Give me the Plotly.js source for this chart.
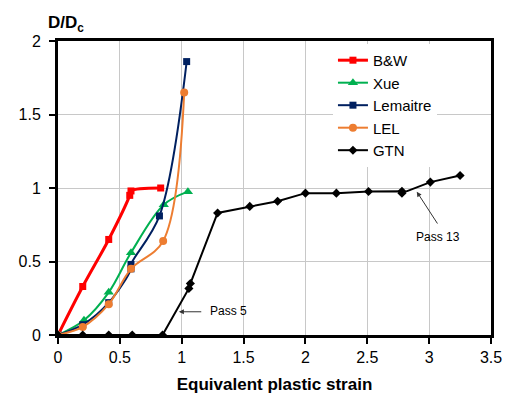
<!DOCTYPE html>
<html><head><meta charset="utf-8">
<script src="https://cdn.plot.ly/plotly-3.0.1.min.js"></script>
<style>html,body{margin:0;padding:0;background:#fff}#c{width:513px;height:399px}</style>
</head><body><div id="c"></div>
<script>
// Data
const bwX = [0, 0.2, 0.41, 0.58, 0.59, 0.83];
const bwY = [0, 0.33, 0.65, 0.95, 0.98, 1.0];
const xueX = [0, 0.21, 0.41, 0.59, 0.855, 1.05];
const xueY = [0, 0.10, 0.29, 0.56, 0.886, 0.975];
const lemX = [0, 0.2, 0.41, 0.59, 0.59, 0.82, 1.04];
const lemY = [0, 0.07, 0.22, 0.45, 0.48, 0.81, 1.86];
const lelX = [0, 0.2, 0.41, 0.59, 0.85, 1.02];
const lelY = [0, 0.055, 0.21, 0.45, 0.64, 1.65];
const gtnX = [0, 0.2, 0.41, 0.6, 0.845, 1.058, 1.07, 1.29, 1.55, 1.775, 2.0, 2.25, 2.51, 2.78, 2.78, 3.01, 3.25];
const gtnY = [0, 0, 0, 0, 0, 0.317, 0.35, 0.83, 0.875, 0.91, 0.965, 0.965, 0.976, 0.978, 0.965, 1.04, 1.085];
const xTicks = [0, 0.5, 1, 1.5, 2, 2.5, 3, 3.5];
const xTickText = ['0', '0.5', '1', '1.5', '2', '2.5', '3', '3.5'];
const yTicks = [0, 0.5, 1, 1.5, 2];
const yTickText = ['0', '0.5', '1', '1.5', '2'];

const traces = [
  {x: bwX, y: bwY, name: 'B&W', mode: 'lines+markers', line: {color: '#ff0000', width: 3, shape: 'spline'}, marker: {symbol: 'square', size: 7, color: '#ff0000'}},
  {x: xueX, y: xueY, name: 'Xue', mode: 'lines+markers', line: {color: '#00b050', width: 2, shape: 'spline'}, marker: {symbol: 'triangle-up', size: 9, color: '#00b050'}},
  {x: lemX, y: lemY, name: 'Lemaitre', mode: 'lines+markers', line: {color: '#002060', width: 2, shape: 'spline'}, marker: {symbol: 'square', size: 7, color: '#002060'}},
  {x: lelX, y: lelY, name: 'LEL', mode: 'lines+markers', line: {color: '#ed7d31', width: 2, shape: 'spline'}, marker: {symbol: 'circle', size: 8, color: '#ed7d31'}},
  {x: gtnX, y: gtnY, name: 'GTN', mode: 'lines+markers', line: {color: '#000000', width: 2}, marker: {symbol: 'diamond', size: 7, color: '#000000'}}
];

const layout = {
  width: 513, height: 399,
  margin: {l: 58, r: 22, t: 41, b: 64},
  paper_bgcolor: '#fff', plot_bgcolor: '#fff',
  font: {family: 'Liberation Sans, Arial, sans-serif', color: '#000', size: 15},
  showlegend: true,
  legend: {x: 0.635, y: 0.99, xanchor: 'left', yanchor: 'top', bgcolor: '#fff', font: {size: 15}, tracegroupgap: 0},
  xaxis: {range: [0, 3.5], tickvals: xTicks, ticktext: xTickText, showgrid: true, gridcolor: '#c8c8c8', gridwidth: 1,
    showline: true, linecolor: '#000', linewidth: 3, mirror: true, ticks: 'outside', ticklen: 6, tickwidth: 2, tickcolor: '#000',
    zeroline: false, tickfont: {size: 16},
    title: {text: '<b>Equivalent plastic strain</b>', font: {size: 17}, standoff: 13}},
  yaxis: {range: [0, 2], tickvals: yTicks, ticktext: yTickText, showgrid: true, gridcolor: '#c8c8c8', gridwidth: 1,
    showline: true, linecolor: '#000', linewidth: 3, mirror: true, ticks: 'outside', ticklen: 6, tickwidth: 2, tickcolor: '#000',
    zeroline: false, tickfont: {size: 16}, ticklabelstandoff: 5},
  annotations: [
    {xref: 'paper', yref: 'paper', x: 0.018, y: 1.0, xanchor: 'center', yanchor: 'bottom', yshift: 4, showarrow: false,
      text: '<b>D/D<sub>c</sub></b>', font: {size: 17}},
    {x: 0.977, y: 0.158, ax: 1.17, ay: 0.158, axref: 'x', ayref: 'y', text: '', showarrow: true, arrowhead: 2, arrowsize: 1, arrowwidth: 1, arrowcolor: '#333'},
    {x: 1.38, y: 0.16, text: 'Pass 5', showarrow: false, font: {size: 12}},
    {x: 2.90, y: 0.975, ax: 3.075, ay: 0.748, axref: 'x', ayref: 'y', text: '', showarrow: true, arrowhead: 2, arrowsize: 1, arrowwidth: 1, arrowcolor: '#333'},
    {x: 3.075, y: 0.667, text: 'Pass 13', showarrow: false, font: {size: 12}}
  ]
};
Plotly.newPlot('c', traces, layout, {displayModeBar: false, staticPlot: true});
</script></body></html>
